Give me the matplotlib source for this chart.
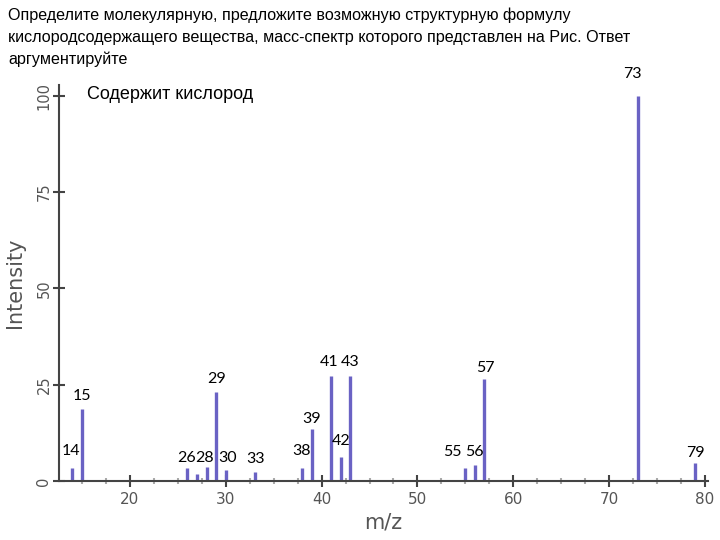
import matplotlib.pyplot as plt
from matplotlib.ticker import MultipleLocator

# peak data
mz = [14, 15, 26, 27, 28, 29, 30, 33, 38, 39, 41, 42, 43, 55, 56, 57, 73, 79]
intensity = [3.3, 18.7, 3.4, 1.8, 3.7, 23, 2.8, 2.5, 3.3, 13.5, 27.3, 6.3, 27.3,
             3.4, 4.3, 26.5, 100, 4.7]

# labelled peaks and label offsets (pixels)
labels = [14, 15, 26, 28, 29, 30, 33, 38, 39, 41, 42, 43, 55, 56, 57, 73, 79]
label_dx = [-1, 0, -1, -2, 0, 2, 1, -1, 0, -2, 0, 0, -13, 0, 1, -5, 0]
label_dy = [17, 13, 10, 9, 13, 12, 13, 17, 10, 14, 16, 14, 16, 13, 11, 22, 10]

title = ("Определите молекулярную, предложите возможную структурную формулу\n"
         "кислородсодержащего вещества, масс-спектр которого представлен на Рис. Ответ\n"
         "аргументируйте")

fig = plt.figure(figsize=(7.2, 5.4), dpi=100)
ax = fig.add_axes([0.082, 0.109, 0.901, 0.734])

ax.vlines(mz, 0, intensity, color='#6a62c4', linewidth=2.4)

ax.set_xlim(12.6, 80.3)
ax.set_ylim(0, 102.8)
for s in ['top', 'right']:
    ax.spines[s].set_visible(False)
for s in ['left', 'bottom']:
    ax.spines[s].set_color('#444444')
    ax.spines[s].set_linewidth(1.5)

ax.xaxis.set_major_locator(MultipleLocator(10))
ax.xaxis.set_minor_locator(MultipleLocator(2.5))
ax.yaxis.set_major_locator(MultipleLocator(25))
ax.tick_params(which='major', direction='inout', length=9, width=1.5,
               color='#444444', labelcolor='#555555', labelsize=11)
ax.tick_params(axis='y', which='major', pad=1, labelsize=10.5)
ax.tick_params(which='minor', direction='inout', length=4, width=1.5, color='#aaaaaa')
ax.set_xticks([20, 30, 40, 50, 60, 70, 80])
plt.setp(ax.get_yticklabels(), rotation=90, va='center')

ax.set_xlabel('m/z', fontsize=15, color='#555555', labelpad=4)
ax.set_ylabel('Intensity', fontsize=15, color='#555555', labelpad=8)

heights = dict(zip(mz, intensity))
for lab, dx, dy in zip(labels, label_dx, label_dy):
    ax.annotate(str(lab), xy=(lab, heights[lab]), xytext=(dx, dy),
                textcoords='offset pixels', ha='center', va='center',
                fontsize=11.5, family='Lato', annotation_clip=False)

fig.text(0.011, 0.986, title, ha='left', va='top', fontsize=11.6,
         family='Liberation Sans', linespacing=1.55)
fig.text(0.121, 0.825, 'Содержит кислород', ha='left', va='center', fontsize=13,
         family='Liberation Sans')

fig.savefig('out.png', dpi=100)
